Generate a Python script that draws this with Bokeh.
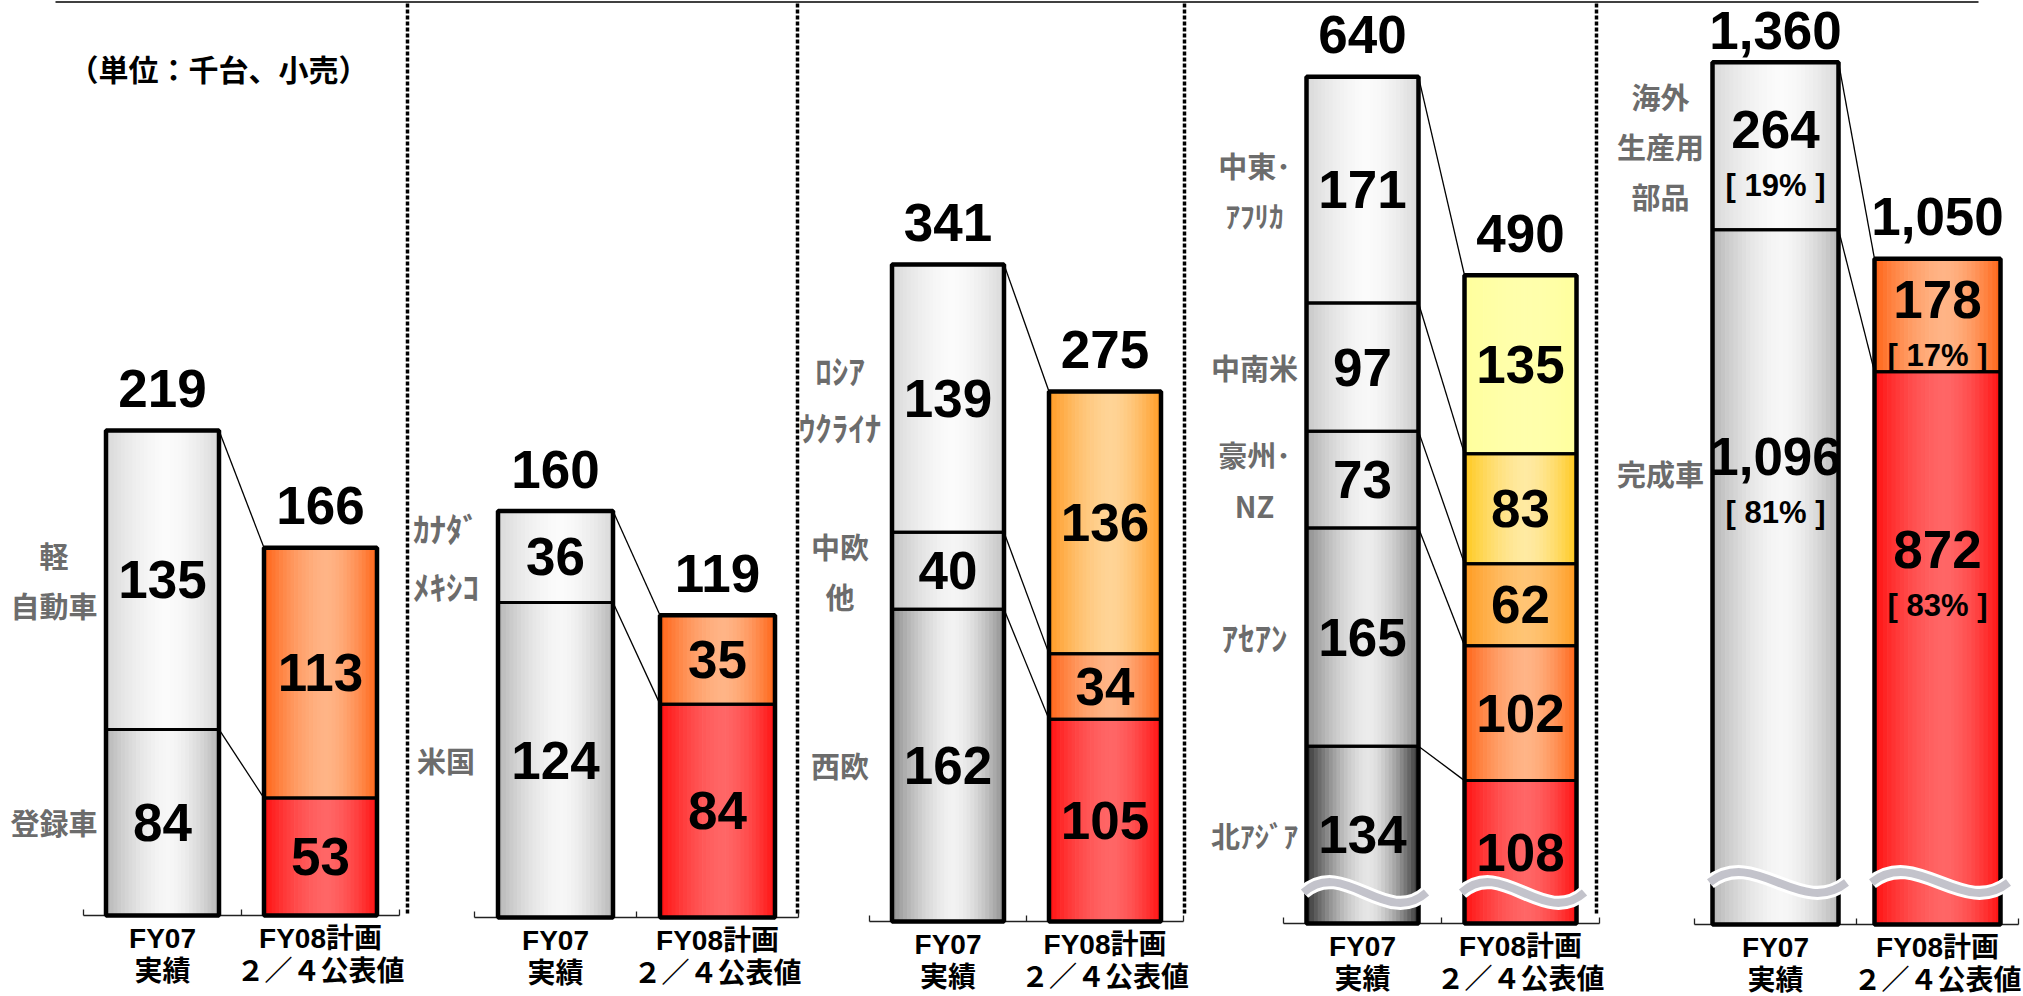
import numpy as np
from bokeh.plotting import figure
from bokeh.models import Range1d, ColumnDataSource
from bokeh.core.properties import value
from bokeh.embed import file_html
from bokeh.resources import INLINE

# ---------------- data ----------------
categories = ["FY07\n実績", "FY08計画\n２／４公表値"]
unit_note = "（単位：千台、小売）"

p1_segments = ["登録車", "軽\n自動車"]
p1_fy07 = [84, 135]
p1_fy08 = [53, 113]

p2_segments = ["米国", "ｶﾅﾀﾞ\nﾒｷｼｺ"]
p2_fy07 = [124, 36]
p2_fy08 = [84, 35]

p3_segments = ["西欧", "中欧\n他", "ﾛｼｱ\nｳｸﾗｲﾅ"]
p3_fy07 = [162, 40, 139]
p3_fy08 = [105, 34, 136]

p4_segments = ["北ｱｼﾞｱ", "ｱｾｱﾝ", "豪州･\nNZ", "中南米", "中東･\nｱﾌﾘｶ"]
p4_fy07 = [134, 165, 73, 97, 171]
p4_fy08 = [108, 102, 62, 83, 135]

p5_segments = ["完成車", "海外\n生産用\n部品"]
p5_fy07 = [1096, 264]
p5_fy08 = [872, 178]
p5_fy07_share = ["81%", "19%"]
p5_fy08_share = ["83%", "17%"]

panels = [
    dict(segments=p1_segments, fy07=p1_fy07, fy08=p1_fy08),
    dict(segments=p2_segments, fy07=p2_fy07, fy08=p2_fy08),
    dict(segments=p3_segments, fy07=p3_fy07, fy08=p3_fy08),
    dict(segments=p4_segments, fy07=p4_fy07, fy08=p4_fy08),
    dict(segments=p5_segments, fy07=p5_fy07, fy08=p5_fy08,
         share07=p5_fy07_share, share08=p5_fy08_share),
]

# ---------------- layout / style ----------------
W, H = 2023, 996
axis_x0 = [83, 474, 869, 1283, 1694]
cat_w = [158, 162, 157, 158, 162]
bar_w = [113, 115, 112, 112, 126]
base_px = [915, 917, 921, 923, 924]
px_per_unit = [2.215, 2.54, 1.927, 1.323, 0.634]
wave_gap = [None, None, None, 31, 42]
label_frac = [[.5, .5], [.5, .5], [.5, .5, .5], [.5] * 5, [0.65, 0.5]]
separators_x = [407, 797, 1184, 1596]

G_LIGHT = ("#d8d8d8", "#fbfbfb")
G_MID = ("#b6b6b6", "#f7f7f7")
RED = ("#ff1010", "#ff6666")
ORANGE = ("#ff6416", "#ffb486")
AMBER_L = ("#ff9a22", "#ffd496")
AMBER = ("#ff9a1e", "#ffc474")
YELLOW = ("#ffc81c", "#ffeaa2")
PALE = ("#ffff9c", "#ffffac")

colors07 = [
    [G_MID, G_LIGHT],
    [G_MID, G_LIGHT],
    [("#8e8e8e", "#f2f2f2"), ("#c2c2c2", "#f5f5f5"), G_LIGHT],
    [("#333333", "#e6e6e6"), ("#8c8c8c", "#ececec"), ("#aeaeae", "#f4f4f4"),
     ("#c6c6c6", "#f8f8f8"), G_LIGHT],
    [G_MID, G_LIGHT],
]
colors08 = [
    [RED, ORANGE],
    [RED, ORANGE],
    [RED, ORANGE, AMBER_L],
    [RED, ORANGE, AMBER, YELLOW, PALE],
    [RED, ORANGE],
]

NUM_FONT = value("Liberation Sans, Noto Sans CJK JP")
JP_FONT = value("Noto Sans CJK JP")
LABEL_GREY = "#6c6c6c"


def hex2rgb(h):
    h = h.lstrip("#")
    return np.array([int(h[i:i + 2], 16) for i in (0, 2, 4)], dtype=float)


def mix(c_center, c_edge, t):
    a, b = hex2rgb(c_center), hex2rgb(c_edge)
    c = a + (b - a) * t
    return "#%02x%02x%02x" % tuple(int(round(v)) for v in c)


def label_size(s):
    # labels written only in half-width katakana are set a little larger
    has_kana = any(0xFF61 <= ord(ch) <= 0xFF9F for ch in s)
    has_ideo = any(0x4E00 <= ord(ch) <= 0x9FFF for ch in s)
    return "33px" if (has_kana and not has_ideo) else "29px"


p = figure(width=W, height=H, x_range=Range1d(0, W), y_range=Range1d(H, 0),
           x_axis_type=None, y_axis_type=None, toolbar_location=None,
           output_backend="svg", min_border=0, tools="")
p.outline_line_color = None
p.background_fill_color = "white"
p.border_fill_color = "white"

extra = {}
for i in range(5):
    s, yb = px_per_unit[i], base_px[i]
    extra[f"p{i}"] = Range1d(start=(yb - H) / s, end=yb / s)
p.extra_y_ranges = extra

# top border line and dashed separators
p.segment(x0=[55], y0=[1.5], x1=[1978], y1=[1.5], line_color="black", line_width=1.5)
p.segment(x0=separators_x, y0=[3] * 4, x1=separators_x, y1=[915] * 4,
          line_color="black", line_width=3.5, line_dash="4 2")

p.text(x=[218], y=[67], text=[unit_note], text_font=JP_FONT, text_font_size="30px",
       text_font_style="bold", text_color="black", text_align="center",
       text_baseline="middle")

N = 30


def draw_bar(rng, xc, w, vals, cols):
    cum = np.concatenate([[0], np.cumsum(vals)])
    L, R = xc - w / 2, xc + w / 2
    d = dict(left=[], right=[], bottom=[], top=[], color=[])
    peak = 0.55
    for k, v in enumerate(vals):
        edge, center = cols[k]
        for j in range(N):
            u = (j + 0.5) / N
            t = (peak - u) / peak if u < peak else (u - peak) / (1 - peak)
            t = min(1.0, t) ** 1.6
            d["left"].append(L + j * w / N)
            d["right"].append(L + (j + 1) * w / N + 0.7)
            d["bottom"].append(cum[k])
            d["top"].append(cum[k + 1])
            d["color"].append(mix(center, edge, t))
    p.quad(source=ColumnDataSource(d), left="left", right="right", bottom="bottom",
           top="top", fill_color="color", line_color=None, y_range_name=rng)
    p.quad(left=[L] * len(vals), right=[R] * len(vals), bottom=cum[:-1], top=cum[1:],
           fill_color=None, line_color="black", line_width=3, y_range_name=rng)
    p.quad(left=[L], right=[R], bottom=[0], top=[cum[-1]], fill_color=None,
           line_color="black", line_width=4.5, y_range_name=rng)
    return cum, L, R


for i, pan in enumerate(panels):
    rng = f"p{i}"
    x0, cw, bw, yb, s = axis_x0[i], cat_w[i], bar_w[i], base_px[i], px_per_unit[i]
    xcs = [x0 + cw / 2, x0 + 1.5 * cw]
    series = [pan["fy07"], pan["fy08"]]
    cols = [colors07[i], colors08[i]]
    shares = [pan.get("share07"), pan.get("share08")]

    # axis line with ticks
    p.segment(x0=[x0], y0=[yb], x1=[x0 + 2 * cw], y1=[yb], line_color="#222222",
              line_width=1.3)
    tx = [x0, x0 + cw, x0 + 2 * cw]
    p.segment(x0=tx, y0=[yb] * 3, x1=tx, y1=[yb - 6] * 3, line_color="#222222",
              line_width=1.3)

    geo = []
    for b in range(2):
        cum, L, R = draw_bar(rng, xcs[b], bw, series[b], cols[b])
        geo.append((cum, L, R))

    # connectors
    cum07, _, R07 = geo[0]
    cum08, L08, _ = geo[1]
    m = len(cum07) - 1
    p.segment(x0=[R07] * m, y0=cum07[1:], x1=[L08] * m, y1=cum08[1:],
              line_color="black", line_width=1.3, y_range_name=rng)

    # wave break decoration
    if wave_gap[i] is not None:
        wy = yb - wave_gap[i]
        for (cum, L, R) in geo:
            wl, wr = L - 3, R + 8
            span = wr - wl
            for lw, lc in ((14, "white"), (8, "#c3c3cb")):
                p.bezier(x0=[wl], y0=[wy], x1=[wr], y1=[wy],
                         cx0=[wl + 0.33 * span], cy0=[wy - 36],
                         cx1=[wl + 0.67 * span], cy1=[wy + 36],
                         line_color=lc, line_width=lw)

    # value labels, totals
    for b in range(2):
        cum, L, R = geo[b]
        vals = series[b]
        anchors = [cum[k] + label_frac[i][k] * vals[k] for k in range(len(vals))]
        if shares[b] is not None:
            num_off, share_off = -16, 40
        else:
            num_off, share_off = 0, 0
        p.text(x=[xcs[b]] * len(vals), y=anchors, text=[f"{v:,}" for v in vals],
               y_offset=num_off, text_font=NUM_FONT, text_font_size="53px",
               text_font_style="bold", text_color="black", text_align="center",
               text_baseline="middle", y_range_name=rng)
        if shares[b] is not None:
            p.text(x=[xcs[b]] * len(vals), y=anchors,
                   text=[f"[ {sh} ]" for sh in shares[b]], y_offset=share_off,
                   text_font=NUM_FONT, text_font_size="31px", text_font_style="bold",
                   text_color="black", text_align="center", text_baseline="middle",
                   y_range_name=rng)
        top_px = yb - cum[-1] * s
        tot_off = -min(42, top_px - 30)
        p.text(x=[xcs[b]], y=[cum[-1]], text=[f"{int(cum[-1]):,}"], y_offset=tot_off,
               text_font=NUM_FONT, text_font_size="53px", text_font_style="bold",
               text_color="black", text_align="center", text_baseline="middle",
               y_range_name=rng)
        if b == 0:
            segs = pan["segments"]
            src = ColumnDataSource(dict(x=[L - 52] * len(vals), y=anchors, text=segs,
                                        size=[label_size(t) for t in segs]))
            p.text(x="x", y="y", text="text", source=src, text_font=JP_FONT,
                   text_font_size="size", text_font_style="bold",
                   text_color=LABEL_GREY, text_align="center",
                   text_baseline="middle", text_line_height=1.2, y_range_name=rng)

    # category labels
    p.text(x=xcs, y=[yb + 7] * 2, text=categories, text_font=NUM_FONT,
           text_font_size="28px", text_font_style="bold", text_color="black",
           text_align="center", text_baseline="top", text_line_height=1.08)

open("out.html", "w").write(file_html(p, INLINE))
